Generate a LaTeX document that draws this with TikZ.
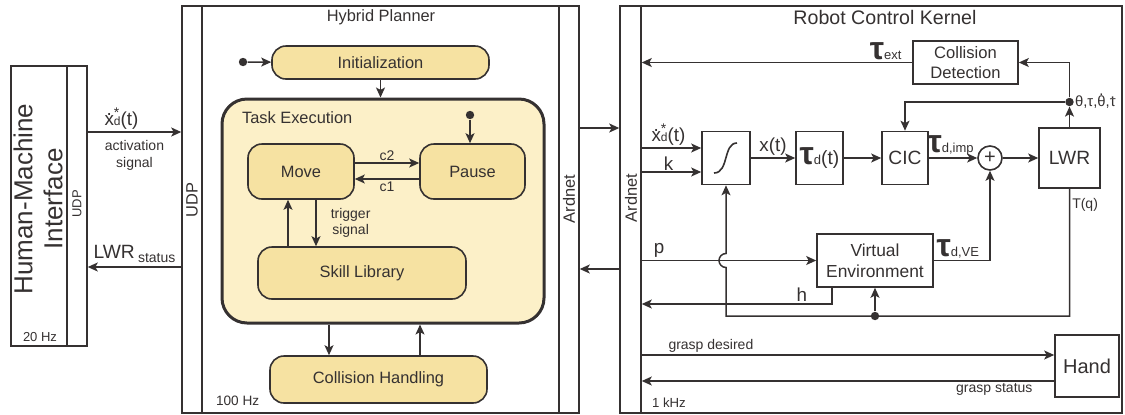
\documentclass[tikz,border=0pt]{standalone}
\usepackage{fontspec}
\setmainfont{Liberation Sans}
\usepackage{tikz}
\usetikzlibrary{arrows.meta,positioning,calc}
\definecolor{ink}{HTML}{353131}
\definecolor{boxfill}{HTML}{F6E2A2}
\definecolor{taskfill}{HTML}{FCF0C8}
\newcommand{\fsz}[2]{\fontsize{#1}{#2}\selectfont}
\newcommand{\tauB}{{\fsz{16}{16}\bfseries τ}}
\newcommand{\lo}[1]{{\fsz{6.5}{7}#1}}
\newcommand{\dotover}[2]{{\ooalign{#2\cr\hidewidth\raisebox{#1}{.}\hidewidth\cr}}}
\newcommand{\xdstar}{\dotover{0.5em}{x}\rlap{\raisebox{0.42em}{\fsz{7}{7}*}}{\fsz{6}{6}d}(t)}

\begin{document}
\begin{tikzpicture}[
  x=0.5pt, y=-0.5pt,
  color=ink, text=ink,
  font=\fsz{8.2}{9.8},
  frame/.style={draw, line width=0.75pt, minimum height=203.5pt, inner sep=0pt},
  state/.style={draw, line width=0.8pt, rounded corners=7pt, fill=boxfill, minimum height=27.5pt, inner sep=2pt},
  blk/.style={draw, line width=0.8pt, minimum width=24pt, minimum height=26.5pt, inner sep=1pt, font=\fsz{9.6}{11}},
  arr/.style={-{Stealth[length=5pt,width=4.5pt,inset=1.2pt]}, line width=0.75pt},
  lbl/.style={inner sep=1pt, font=\fsz{7}{8.2}},
  sig/.style={inner sep=1pt, font=\fsz{9.4}{11}},
  dot/.style={circle, fill=ink, inner sep=0pt, minimum size=4.2pt}
]
\useasboundingbox (0,0) rectangle (1125,414);

% human-machine interface
\node[frame, minimum width=28pt, minimum height=140pt] (hmi) at (39,206) {};
\node[frame, minimum width=10pt, minimum height=140pt] (hmiudp) at (77,206) {};
\node[rotate=90, align=center, font=\fsz{13}{15}] (hmitxt) at (38,199) {Human-Machine\\Interface};
\node[rotate=90, font=\fsz{6.5}{7}] (hmiudptxt) at (77,204) {UDP};
\node[font=\fsz{6.5}{7}] (hmihz) at (40,337) {20 Hz};

% hybrid planner
\node[frame, minimum width=10pt] (pludp) at (192,209.5) {};
\node[frame, minimum width=178.5pt] (plan) at (380.5,209.5) {};
\node[frame, minimum width=10pt] (plard) at (569,209.5) {};
\node[rotate=90] (pludptxt) at (192,200) {UDP};
\node[rotate=90] (plardtxt) at (569,199) {Ardnet};
\node (pltitle) at (381,17) {Hybrid Planner};
\node[anchor=west, font=\fsz{6.8}{8}] (plhz) at (209,401) {100 Hz};

\node[state, minimum width=108.5pt, minimum height=16.5pt] (init) at (380.5,62.5) {Initialization};
\node[draw, line width=1.5pt, rounded corners=12.5pt, fill=taskfill, minimum width=161pt, minimum height=112pt] (task) at (383,211) {};
\node[anchor=west] (tasktxt) at (235,118) {Task Execution};
\node[state, minimum width=53pt] (move) at (301,171.5) {Move};
\node[state, minimum width=52.5pt] (pause) at (472.5,171.5) {Pause};
\node[state, minimum width=104pt, minimum height=26pt] (skill) at (362,273) {Skill Library};
\node[state, minimum width=108.5pt, minimum height=23.5pt] (colh) at (378.5,379.5) {Collision Handling};
\node[dot] (init0) at (243,62) {};
\node[dot] (pause0) at (470,115) {};

\draw[arr] (init0) -- (init);
\draw[arr] (init.south) -- (init.south |- task.north);
\draw[arr] (pause0) -- (pause0 |- pause.north);
\draw[arr] ([yshift=4.25pt]move.east) -- node[above, lbl] (lc2) {c2} ([yshift=4.25pt]pause.west);
\draw[arr] ([yshift=-3.75pt]pause.west) -- node[below, lbl] (lc1) {c1} ([yshift=-3.75pt]move.east);
\draw[arr] ([xshift=7.5pt]move.south) -- node[right=6pt, lbl, align=center] (ltrig) {trigger\\signal} ([xshift=7.5pt]move.south |- skill.north);
\draw[arr] ([xshift=-6.5pt]move.south |- skill.north) -- ([xshift=-6.5pt]move.south);
\draw[arr] ([xshift=-24.75pt]colh.north |- task.south) -- ([xshift=-24.75pt]colh.north);
\draw[arr] ([xshift=20.75pt]colh.north) -- ([xshift=20.75pt]colh.north |- task.south);

% robot control kernel
\node[frame, minimum width=10.5pt] (krard) at (630.5,209.5) {};
\node[frame, minimum width=240.5pt] (kern) at (881.5,209.5) {};
\node[rotate=90] (krardtxt) at (631,198) {Ardnet};
\node[font=\fsz{9.8}{11}] (krtitle) at (885,17) {Robot Control Kernel};
\node[anchor=west, font=\fsz{6.6}{8}] (krhz) at (645,403) {1 kHz};

\node[blk, minimum width=52.5pt, minimum height=21.5pt, align=center, font=\fsz{8.3}{10}] (cd) at (965.5,62.5) {Collision\\Detection};
\node[blk] (lim) at (726,158) {};
\draw[line width=0.8pt] ($(lim.center)+(-12,15)$) .. controls ($(lim.center)+(3,15)$) and ($(lim.center)+(-3,-15)$) .. ($(lim.center)+(11,-15)$);
\node[blk, minimum width=23.5pt] (taud) at (819.5,158) {\tauB\lo{d}(t)};
\node[blk, minimum width=23pt] (cic) at (905,158) {CIC};
\node[draw, circle, line width=0.8pt, minimum size=12pt, inner sep=0pt, font=\fsz{10}{10}] (sum) at (990,158) {+};
\node[blk, minimum width=30.5pt, minimum height=30pt] (lwr) at (1069.5,158) {LWR};
\node[blk, minimum width=58pt, align=center, font=\fsz{8.7}{10.5}] (ve) at (875,260.5) {Virtual\\Environment};
\node[blk, minimum width=32pt, minimum height=31pt, font=\fsz{10}{11}] (hand) at (1087,366) {Hand};
\node[dot] (fb) at (1069.5,102) {};
\node[anchor=west, inner sep=0.3pt, font=\fsz{7.4}{8}] (lfb) at (fb.east) {θ,τ,\dotover{0.72em}{θ},\dotover{0.55em}{τ}};
\node[dot] (vedot) at (ve.south |- 0,316) {};
\coordinate (hout) at ([xshift=8pt]ve.south west);

\draw[arr] (krard.east |- 0,148) -- node[above, pos=0.45, sig] (lxd2) {\xdstar} (lim.west |- 0,148);
\draw[arr] (krard.east |- 0,172) -- node[above, pos=0.45, sig, inner sep=0.5pt] (lk) {k} (lim.west |- 0,172);
\draw[arr] (lim) -- node[above, sig] (lxt) {x(t)} (taud);
\draw[arr] (taud) -- (cic);
\draw[arr] (cic) -- node[above, pos=0.45, inner sep=1pt] (ltimp) {\tauB\lo{d,imp}} (sum);
\draw[arr] (sum) -- (lwr);
\draw[arr] (lwr.north) -- (fb.south);
\draw[arr] (fb) |- (cd.east);
\draw[arr] (fb) -| (cic.north);
\draw[arr] (cd.west) -- node[pos=0, anchor=south east, xshift=-4pt, inner sep=1pt] (ltext) {\tauB\lo{ext}} (krard.east |- cd.west);
\draw[arr] (krard.east |- ve.west) -- node[above, pos=0.1, sig] (lp) {p} (ve.west);
\draw[arr] (hout) |- node[above, pos=0.58, sig] (lh) {h} (krard.east |- 0,304);
\draw[arr] (lwr.south) -- node[right, pos=0.13, lbl] (ltq) {T(q)} (lwr.south |- 0,316) -- (lim.south |- 0,316)
  -- ([yshift=-3.5pt]lim.south |- ve.west) arc[start angle=90, end angle=270, radius=7] -- (lim.south);
\draw[arr] (vedot) -- (ve.south);
\draw[arr] (ve.east) -- node[pos=0, anchor=south west, inner sep=1pt] (ltve) {\tauB\lo{d,VE}} (sum.south |- ve.east) -- (sum.south);
\draw[arr] (krard.east |- 0,355) -- node[pos=0, anchor=south west, xshift=12pt, lbl] (lgd) {grasp desired} ([yshift=5.5pt]hand.west);
\draw[arr] ([yshift=-7.5pt]hand.west) -- node[pos=0, anchor=north east, xshift=-9.5pt, lbl] (lgs) {grasp status} (krard.east |- 0,381);

% links between the parts
\draw[arr] (hmiudp.east |- 0,132) -- node[above, pos=0.36, sig] (lxd) {\xdstar} node[below=3pt, lbl, align=center] (lact) {activation\\signal} (pludp.west |- 0,132);
\draw[arr] (pludp.west |- 0,267) -- node[above, inner sep=2pt, font=\fsz{9.6}{11}] (llwr) {LWR\,\raisebox{-0.35ex}{\fsz{7}{8}status}} (hmiudp.east |- 0,267);
\draw[arr] (plard.east |- 0,128) -- (krard.west |- 0,128);
\draw[arr] (krard.west |- 0,269) -- (plard.east |- 0,269);
\end{tikzpicture}
\end{document}
